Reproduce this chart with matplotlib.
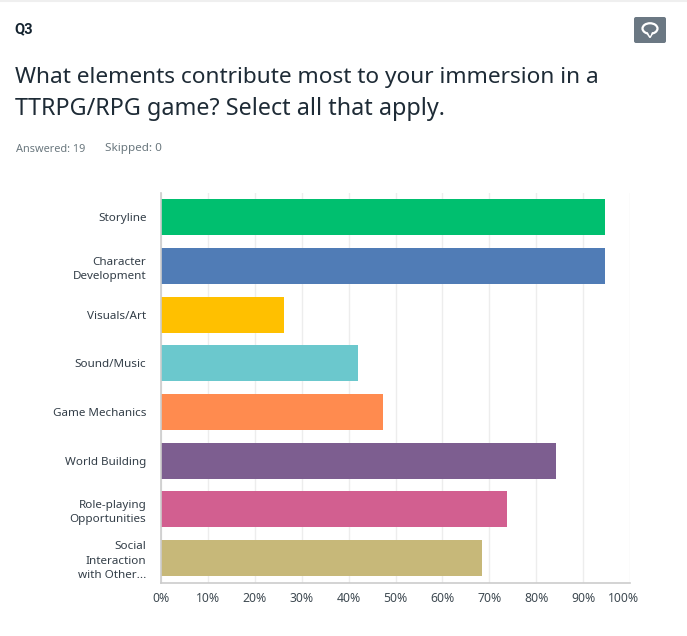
import matplotlib as mpl
mpl.use('Agg')
from matplotlib import pyplot as plt
from matplotlib.patches import FancyBboxPatch, Ellipse, Polygon
from matplotlib.transforms import ScaledTranslation
import numpy as np

mpl.rc('font', family='Noto Sans')

# Answer choices, top to bottom
categories = ["Storyline", "Character\nDevelopment", "Visuals/Art", "Sound/Music",
              "Game Mechanics", "World Building", "Role-playing\nOpportunities",
              "Social\nInteraction\nwith Other..."]
percents = [94.74, 94.74, 26.32, 42.11, 47.37, 84.21, 73.68, 68.42]
bar_colors = ['#00BF6F', '#507CB6', '#FFC000', '#6BC8CD', '#FF8B4F',
              '#7D5E90', '#D25F90', '#C7B879']
x_ticks = [0, 10, 20, 30, 40, 50, 60, 70, 80, 90, 100]
x_tick_labels = ["0%", "10%", "20%", "30%", "40%", "50%", "60%", "70%", "80%", "90%", "100%"]

W, H = 687, 636
fig = plt.figure(figsize=(W / 100, H / 100), dpi=100, facecolor='white')

# Overlay in pixel coordinates for the card header
bg = fig.add_axes([0, 0, 1, 1])
bg.set_xlim(0, W)
bg.set_ylim(H, 0)
bg.axis('off')
bg.plot([0, W], [0.5, 0.5], color='#EFEFEF', lw=1.5)

bg.text(14, 29, "Q3", fontsize=10.5, fontfamily='Roboto', fontweight='bold',
        color='#14232F', va='center')
bg.text(15, 77, "What elements contribute most to your immersion in a",
        fontsize=16.3, color='#1E2B36', va='center')
bg.text(15, 109, "TTRPG/RPG game? Select all that apply.",
        fontsize=16.8, color='#1E2B36', va='center')
bg.text(16, 149, "Answered: 19", fontsize=7.9, color='#6B787F', va='center')
bg.text(105, 149, "Skipped: 0", fontsize=8.4, color='#6B787F', va='center')

# Comment button
bg.add_patch(FancyBboxPatch((634, 17), 32, 26, boxstyle="round,pad=0,rounding_size=2",
                            fc='#6B7883', ec='none'))
bg.add_patch(Ellipse((650, 28.5), 15, 10.5, fc='none', ec='white', lw=1.6))
bg.add_patch(Polygon([[647, 33], [650, 37.5], [652.5, 33]], closed=True, fc='#6B7883',
                     ec='white', lw=1.2))
bg.add_patch(Polygon([[647.5, 32], [650.2, 36], [652, 32]], closed=True, fc='#6B7883', ec='none'))

# Chart axes
left, right, top, bottom = 161, 630, 193, 582.5
ax = fig.add_axes([left / W, 1 - bottom / H, (right - left) / W, (bottom - top) / H])
y = np.arange(len(categories))
ax.barh(y, percents, height=0.74, color=bar_colors, zorder=3)
ax.set_xlim(0, 100)
ax.set_ylim(len(categories) - 0.5, -0.5)
ax.set_xticks(x_ticks)
ax.set_xticklabels(x_tick_labels, fontsize=8.8, color='#3F4A52')
ax.set_yticks(y)
ax.set_yticklabels(categories, fontsize=8.4, color='#333E48', linespacing=1.42)
ax.tick_params(axis='both', length=0)
ax.tick_params(axis='x', pad=7)
ax.tick_params(axis='y', pad=10.5)
ax.grid(axis='x', color='#EDEDED', lw=1, zorder=0)
# last label is pulled in so it stays inside the card
last = ax.get_xticklabels()[-1]
last.set_transform(last.get_transform() + ScaledTranslation(-4.5 / 72, 0, fig.dpi_scale_trans))
for side in ['top', 'right']:
    ax.spines[side].set_visible(False)
for side in ['left', 'bottom']:
    ax.spines[side].set_color('#CCCCCC')
    ax.spines[side].set_linewidth(1.2)
    ax.spines[side].set_zorder(4)

fig.savefig('out.png', dpi=100)
